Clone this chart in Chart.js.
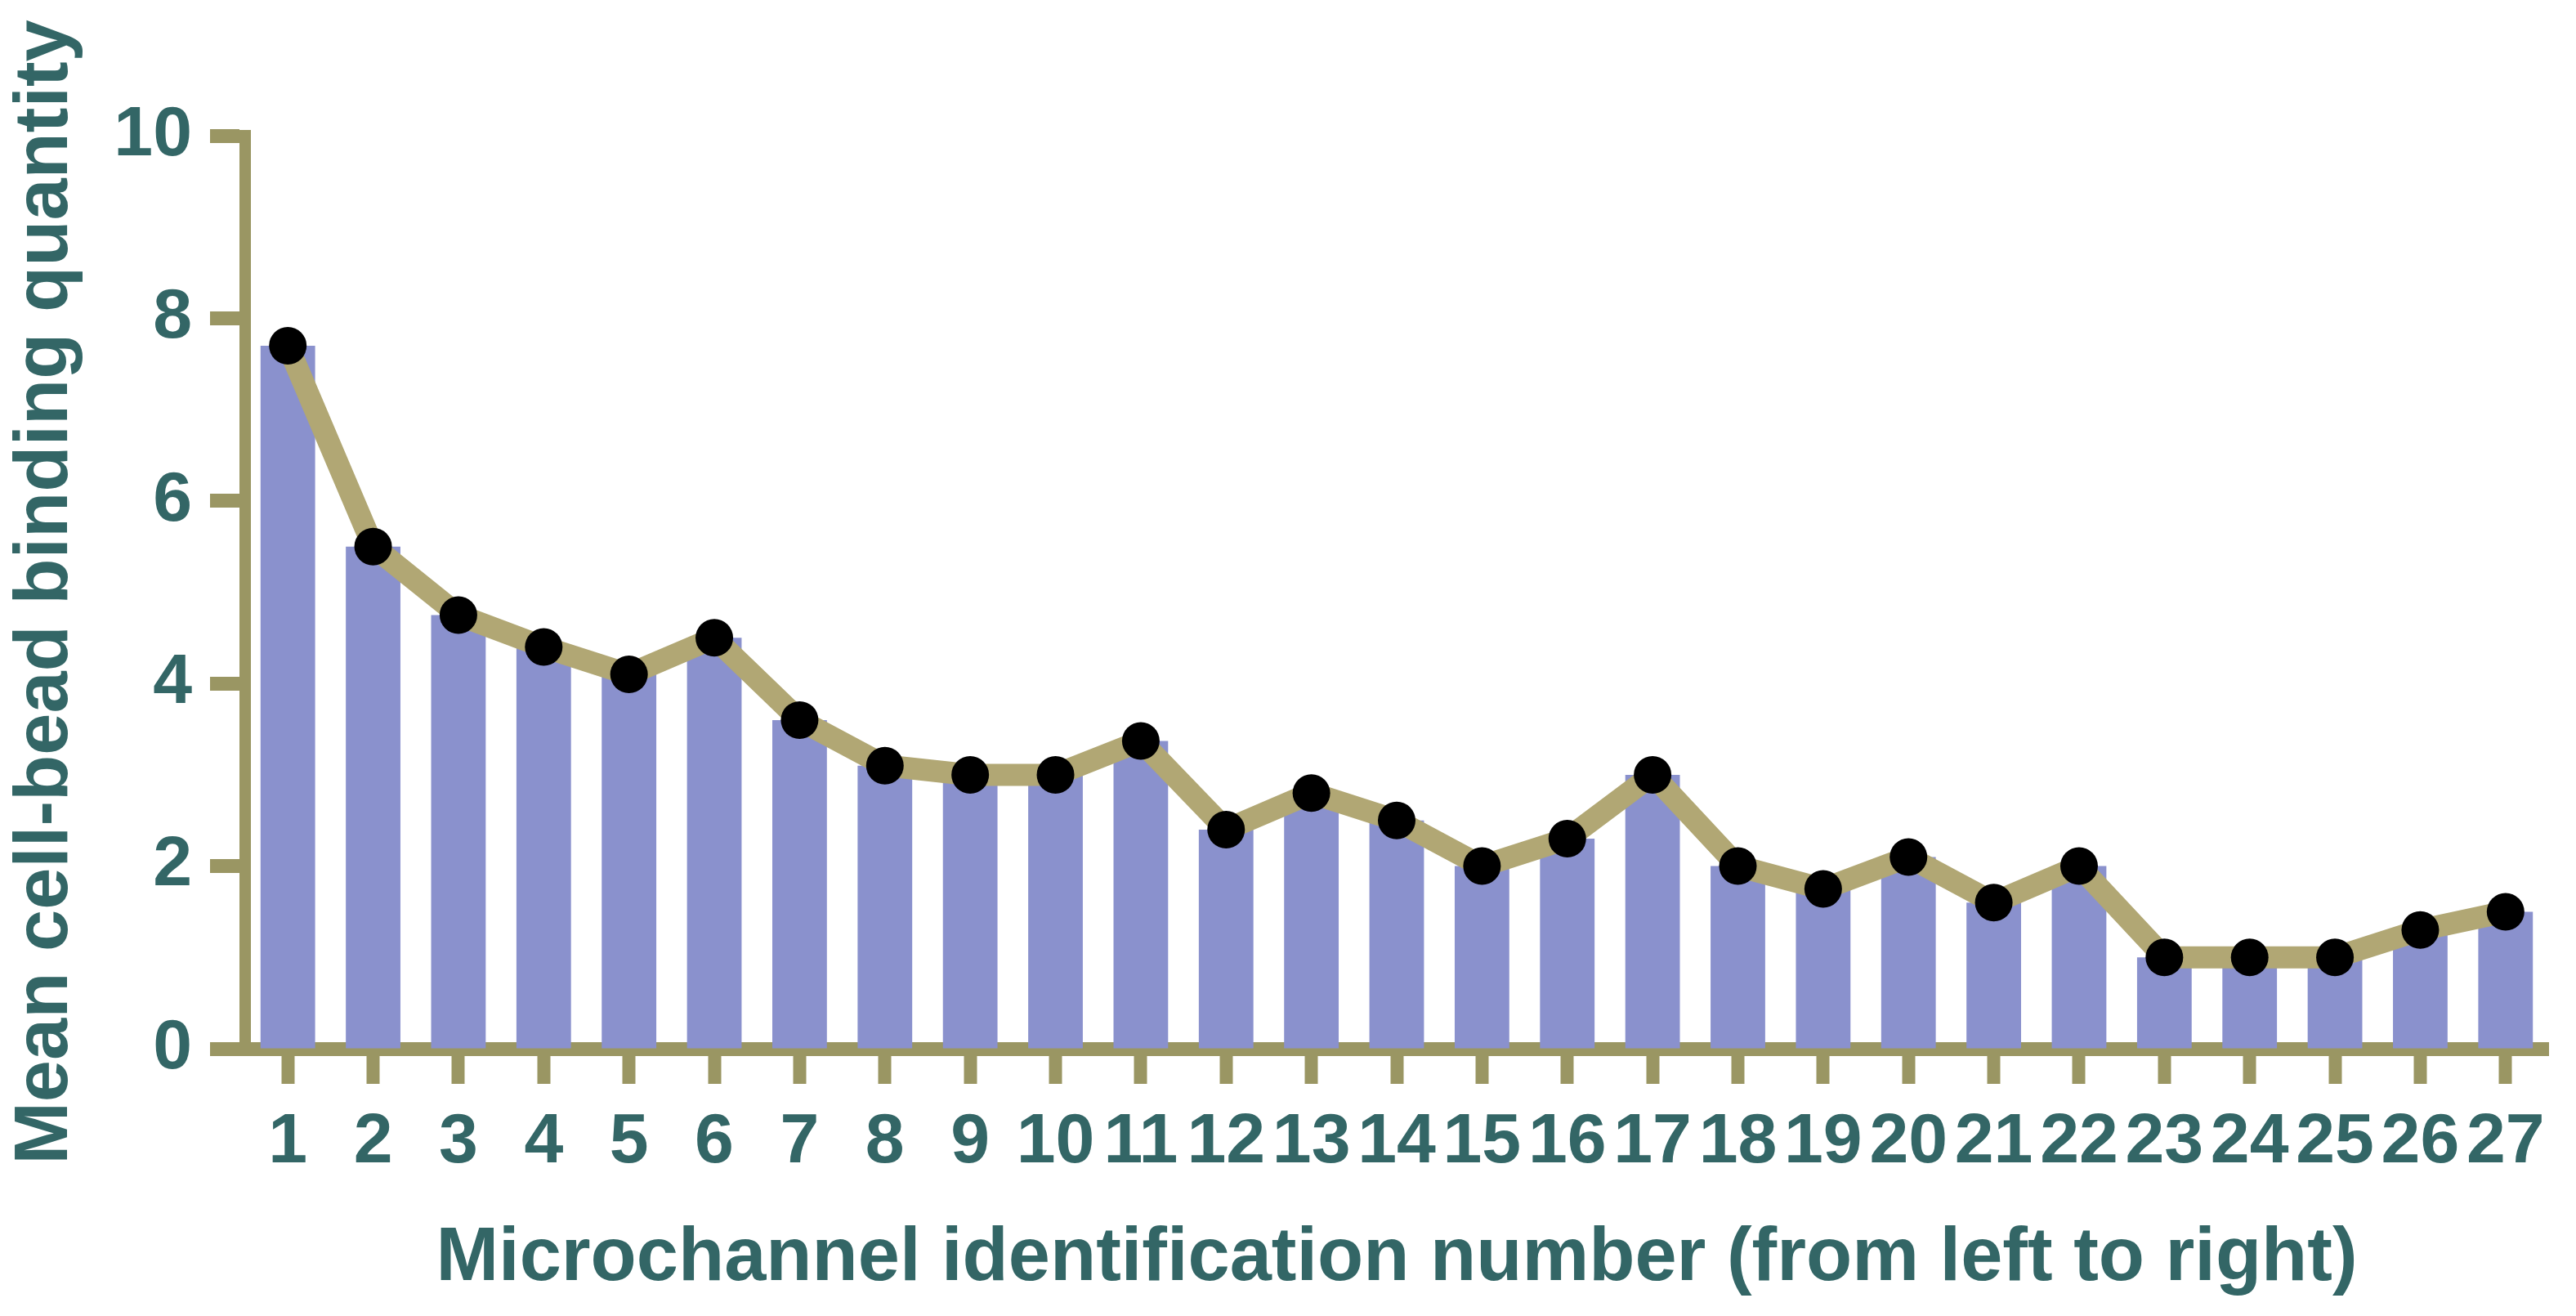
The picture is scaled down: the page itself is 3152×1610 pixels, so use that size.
<!DOCTYPE html>
<html>
<head>
<meta charset="utf-8">
<script src="https://cdn.jsdelivr.net/npm/chart.js@4/dist/chart.umd.min.js"></script>
<style>
  html, body { margin: 0; padding: 0; background: #fff; }
  #wrap { width: 3152px; height: 1610px; }
</style>
</head>
<body>
<div id="wrap"><canvas id="bindingChart" width="3152" height="1610"></canvas></div>
<script>
// channel numbers on the x axis
const channels = ['1','2','3','4','5','6','7','8','9','10','11','12','13','14','15','16','17','18','19','20','21','22','23','24','25','26','27'];
// mean cell-bead binding per channel (bars + line use the same values)
const meanBinding = [7.7, 5.5, 4.75, 4.4, 4.1, 4.5, 3.6, 3.1, 3.0, 3.0, 3.37, 2.4, 2.8, 2.5, 2.0, 2.3, 3.0, 2.0, 1.75, 2.1, 1.6, 2.0, 1.0, 1.0, 1.0, 1.3, 1.5];
const yTicks = [0, 2, 4, 6, 8, 10];

const textColor = '#336666';
const axisColor = '#9a9663';
const barColor = '#8a91cd';
const lineColor = '#b1a774';
const fontFamily = 'Liberation Sans, Arial, sans-serif';

const ctx = document.getElementById('bindingChart');

new Chart(ctx, {
    type: 'bar',
    data: {
        labels: channels,
        datasets: [{
            type: 'line',
            data: meanBinding,
            borderColor: lineColor,
            borderWidth: 27,
            tension: 0,
            pointRadius: 23,
            pointHoverRadius: 23,
            pointBackgroundColor: '#000',
            pointBorderWidth: 0,
            order: 0
        }, {
            type: 'bar',
            data: meanBinding,
            backgroundColor: barColor,
            borderWidth: 0,
            barPercentage: 0.64,
            categoryPercentage: 1,
            order: 1
        }]
    },
    options: {
        responsive: false,
        animation: false,
        devicePixelRatio: 1,
        layout: {
            padding: { left: 0, top: 166, right: 34, bottom: 0 }
        },
        plugins: {
            legend: { display: false },
            tooltip: { enabled: false }
        },
        scales: {
            x: {
                offset: true,
                grid: {
                    offset: false,
                    drawOnChartArea: false,
                    drawTicks: true,
                    tickLength: 43,
                    tickWidth: 16,
                    tickColor: axisColor
                },
                border: { display: true, color: axisColor, width: 17 },
                ticks: {
                    color: textColor,
                    padding: 21,
                    maxRotation: 0,
                    autoSkip: false,
                    font: { family: fontFamily, size: 86, weight: 'bold' }
                },
                title: {
                    display: true,
                    text: 'Microchannel identification number (from left to right)',
                    color: textColor,
                    padding: { top: 0, bottom: 14 },
                    font: { family: fontFamily, size: 92, weight: 'bold' }
                },
                afterFit: function (scale) { scale.height = 327; }
            },
            y: {
                min: 0,
                max: 10,
                afterBuildTicks: function (scale) {
                    scale.ticks = yTicks.map(v => ({ value: v }));
                },
                grid: {
                    drawOnChartArea: false,
                    drawTicks: true,
                    tickLength: 43,
                    tickWidth: 17,
                    tickColor: axisColor
                },
                border: { display: true, color: axisColor, width: 14 },
                ticks: {
                    color: textColor,
                    padding: 22,
                    font: { family: fontFamily, size: 86, weight: 'bold' }
                },
                title: {
                    display: true,
                    text: 'Mean cell-bead binding quantity',
                    color: textColor,
                    padding: { top: 1, bottom: 0 },
                    font: { family: fontFamily, size: 92, weight: 'bold' }
                },
                afterFit: function (scale) { scale.width = 300; }
            }
        }
    }
});
</script>
</body>
</html>
